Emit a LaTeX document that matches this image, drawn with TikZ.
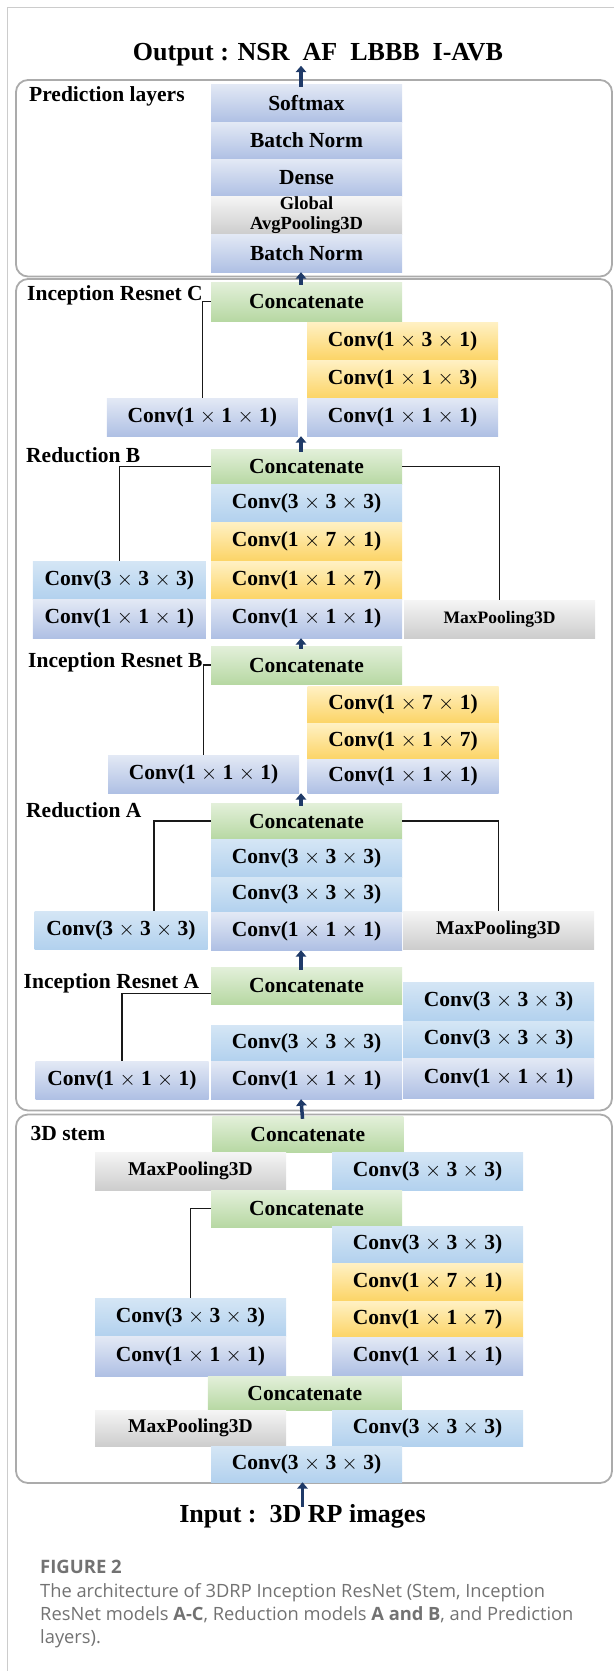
\documentclass[tikz,border=0pt]{standalone}
\usepackage{fontspec}
\setmainfont{Liberation Serif}
\newfontfamily\capfont{Open Sans}
\usepackage{tikz}
\usetikzlibrary{arrows.meta,calc}
\definecolor{lavtop}{HTML}{E3E9F5}
\definecolor{lavbot}{HTML}{AFC0E4}
\definecolor{skytop}{HTML}{D5E6F5}
\definecolor{skybot}{HTML}{B2D1EE}
\definecolor{grntop}{HTML}{E3F0DA}
\definecolor{grnbot}{HTML}{B7D8A3}
\definecolor{ylwtop}{HTML}{FFF1C4}
\definecolor{ylwbot}{HTML}{FCD466}
\definecolor{grytop}{HTML}{F5F5F5}
\definecolor{grybot}{HTML}{CDCDCD}
\definecolor{navy}{HTML}{1F3A68}
\definecolor{grpline}{HTML}{ABABAB}
\definecolor{capgray}{HTML}{727272}
\newcommand\layerfont{\bfseries\fontsize{21.5}{22}\selectfont}
\newcommand\poolfont{\bfseries\fontsize{19.5}{20}\selectfont}
\newcommand\outfont{\bfseries\fontsize{26}{28}\selectfont}
% conv label, thin math crosses
\newcommand\cv[3]{Conv(#1 $\times$ #2 $\times$ #3)}
\tikzset{layer/.style={rectangle, inner sep=0pt, text=black, font=\layerfont,
minimum width=191pt, minimum height=38pt},
lavender/.style={layer, top color=lavtop, bottom color=lavbot},
skyblue/.style={layer, top color=skytop, bottom color=skybot},
concat/.style={layer, top color=grntop, bottom color=grnbot},
asym/.style={layer, top color=ylwtop, bottom color=ylwbot},
pool/.style={layer, font=\poolfont, top color=grytop, bottom color=grybot},
group/.style={draw=grpline, line width=1.8pt, rounded corners=12pt},
grouptitle/.style={anchor=base west, inner sep=0pt, font=\layerfont},
link/.style={draw=black!90, line width=1.3pt},
arrow/.style={draw=navy, line width=3.5pt, shorten <=-3pt, -{Triangle[width=10.5pt,length=6.5pt]}},
captext/.style={anchor=base west, inner sep=0pt, text=capgray, font=\capfont\fontsize{18.3}{23}\selectfont},
frame/.style={draw=black!20, line width=1pt}}

\begin{document}
\begin{tikzpicture}[x=1pt,y=-1pt]
    \useasboundingbox (0,0) rectangle (614,1671);
    \draw[frame] (614,7.5) -- (7.5,7.5) -- (7.5,1671);

    % Group frames
    \draw[group] (16,80) rectangle (612,276.5);
    \draw[group] (16,279) rectangle (612,1110.5);
    \draw[group] (16,1114.5) rectangle (612,1483);

    % Output and input
    \node[font=\outfont, anchor=base, inner sep=0pt] (title) at (318,60) {Output : NSR\ \ AF\ \ LBBB\ \ I-AVB};
    \node[font=\outfont, anchor=base, inner sep=0pt] (input) at (302.5,1522) {Input :\ \ 3D RP images};

    % Prediction layers
    \node[grouptitle] (tpred) at (29,101) {Prediction layers};
    \node[lavender] (soft) at (306.5,103) {Softmax};
    \node[lavender, minimum height=37pt] (bnB) at (306.5,140.5) {Batch Norm};
    \node[lavender, minimum height=37pt] (dense) at (306.5,177.5) {Dense};
    \node[pool, font=\bfseries\fontsize{18.5}{19.5}\selectfont, align=center] (gap) at (306.5,215) {Global\\AvgPooling3D};
    \node[lavender] (bnA) at (306.5,253) {Batch Norm};

    % Inception Resnet C
    \node[grouptitle] (tincC) at (27,300) {Inception Resnet C};
    \node[concat, minimum height=39pt] (catC) at (306.5,301.5) {Concatenate};
    \node[asym] (c131) at (402.5,341) {\cv{1}{3}{1}};
    \node[asym] (c113) at (402.5,379) {\cv{1}{1}{3}};
    \node[lavender] (c111r) at (402.5,417) {\cv{1}{1}{1}};
    \node[lavender] (c111l) at (202.3,417) {\cv{1}{1}{1}};

    % Reduction B
    \node[grouptitle] (tredB) at (26,462) {Reduction B};
    \node[concat, minimum height=35pt] (catRB) at (306.5,466.5) {Concatenate};
    \node[skyblue] (rb333) at (306.5,503) {\cv{3}{3}{3}};
    \node[asym, minimum height=39pt] (rb171) at (306.5,541.5) {\cv{1}{7}{1}};
    \node[asym] (rb117) at (306.5,580) {\cv{1}{1}{7}};
    \node[lavender, minimum height=39pt] (rb111) at (306.5,618.5) {\cv{1}{1}{1}};
    \node[skyblue, minimum width=173pt] (rbl333) at (119.3,580) {\cv{3}{3}{3}};
    \node[lavender, minimum width=173pt, minimum height=39pt] (rbl111) at (119.3,618.5) {\cv{1}{1}{1}};
    \node[pool, font=\bfseries\fontsize{17.5}{18}\selectfont] (rbmax) at (499.5,619) {MaxPooling3D};

    % Inception Resnet B
    \node[grouptitle] (tincB) at (28,667) {Inception Resnet B};
    \node[concat] (catIB) at (306.5,665) {Concatenate};
    \node[asym, minimum height=37pt] (b171) at (403,704.5) {\cv{1}{7}{1}};
    \node[asym, minimum height=36pt] (b117) at (403,741) {\cv{1}{1}{7}};
    \node[lavender, minimum height=34pt] (b111r) at (403,776) {\cv{1}{1}{1}};
    \node[lavender] (b111l) at (203.6,774) {\cv{1}{1}{1}};

    % Reduction A
    \node[grouptitle] (tredA) at (26,817) {Reduction A};
    \node[concat, minimum height=36pt] (catRA) at (306.5,821) {Concatenate};
    \node[skyblue] (ra333a) at (306.5,858) {\cv{3}{3}{3}};
    \node[skyblue, minimum height=35pt] (ra333b) at (306.5,894.5) {\cv{3}{3}{3}};
    \node[lavender] (ra111) at (306.5,931) {\cv{1}{1}{1}};
    \node[skyblue, minimum width=173pt] (ral333) at (121,930) {\cv{3}{3}{3}};
    \node[pool] (ramax) at (498.5,930) {MaxPooling3D};

    % Inception Resnet A
    \node[grouptitle] (tincA) at (23.5,988) {Inception Resnet A};
    \node[concat, minimum height=37pt] (catIA) at (306.5,985.5) {Concatenate};
    \node[skyblue, minimum height=36pt] (a333) at (306.5,1043) {\cv{3}{3}{3}};
    \node[lavender] (a111) at (306.5,1080) {\cv{1}{1}{1}};
    \node[lavender, minimum width=173pt] (al111) at (122,1080) {\cv{1}{1}{1}};
    \node[skyblue, minimum height=39pt] (ar333a) at (498.5,1001.5) {\cv{3}{3}{3}};
    \node[skyblue, minimum height=37pt] (ar333b) at (498.5,1039.5) {\cv{3}{3}{3}};
    \node[lavender, minimum height=40pt] (ar111) at (498.5,1078) {\cv{1}{1}{1}};

    % 3D stem
    \node[grouptitle] (tstem) at (30.5,1140) {3D stem};
    \node[concat, minimum height=36pt] (catS1) at (307.8,1134) {Concatenate};
    \node[pool] (smaxA) at (190.5,1171) {MaxPooling3D};
    \node[skyblue] (s333a) at (427.5,1171) {\cv{3}{3}{3}};
    \node[concat, minimum height=37pt] (catS2) at (306.5,1208.5) {Concatenate};
    \node[skyblue, minimum height=37pt] (s333b) at (427.5,1244.5) {\cv{3}{3}{3}};
    \node[asym] (s171) at (427.5,1282) {\cv{1}{7}{1}};
    \node[asym, minimum height=36pt] (s117) at (427.5,1319) {\cv{1}{1}{7}};
    \node[lavender] (s111r) at (427.5,1356) {\cv{1}{1}{1}};
    \node[skyblue] (sl333) at (190.5,1317) {\cv{3}{3}{3}};
    \node[lavender, minimum height=40pt] (sl111) at (190.5,1356) {\cv{1}{1}{1}};
    \node[concat, minimum width=194pt, minimum height=34pt] (catS3) at (304.8,1393) {Concatenate};
    \node[pool, minimum height=36pt] (smaxB) at (190.5,1428) {MaxPooling3D};
    \node[skyblue, minimum height=36pt] (s333c) at (427.5,1428) {\cv{3}{3}{3}};
    \node[skyblue, minimum height=36pt] (s333d) at (306.5,1464) {\cv{3}{3}{3}};

    % Shortcut lines
    \draw[link] (catC.west) -| (c111l.north);
    \draw[link] (catRB.west) -| (rbl333.north);
    \draw[link] (catRB.east) -| (rbmax.north);
    \draw[link] (catIB.west) -| (b111l.north);
    \draw[link] (catRA.west) -| ([xshift=33pt]ral333.north);
    \draw[link] (catRA.east) -| (ramax.north);
    \draw[link] ([yshift=-8pt]catIA.west) -| (al111.north);
    \draw[link] (catS2.west) -| (sl333.north);

    % Flow arrows
    \draw[arrow] ([xshift=-5.5pt]soft.north) -- ([xshift=-5.5pt]soft.north |- title.south);
    \draw[arrow] ([xshift=-5.5pt]catC.north) -- ([xshift=-5.5pt]bnA.south);
    \draw[arrow] ([xshift=-5.5pt]catRB.north) -- ([xshift=-5.5pt]catRB.north |- c111r.south);
    \draw[arrow] ([xshift=-5.5pt]catIB.north) -- ([xshift=-5.5pt]rb111.south);
    \draw[arrow] ([xshift=-5.5pt]catRA.north) -- ([xshift=-5.5pt]catRA.north |- b111r.south);
    \draw[arrow] ([xshift=-5.5pt]catIA.north) -- ([xshift=-5.5pt]ra111.south);
    \draw[arrow] ([xshift=-5.5pt]catS1.north) -- ([xshift=-5.5pt]a111.south);
    \draw[arrow] (input.north) -- (input.north |- s333d.south);

    % Caption
    \node[captext, font=\capfont\bfseries\fontsize{18.5}{23}\selectfont] (figno) at (40,1573) {FIGURE 2};
    \node[captext] (capA) at (40,1597) {The architecture of 3DRP Inception ResNet (Stem, Inception};
    \node[captext] (capB) at (40,1620) {ResNet models \textbf{A-C}, Reduction models \textbf{A and B}, and Prediction};
    \node[captext] (capC) at (40,1643) {layers).};
\end{tikzpicture}
\end{document}
